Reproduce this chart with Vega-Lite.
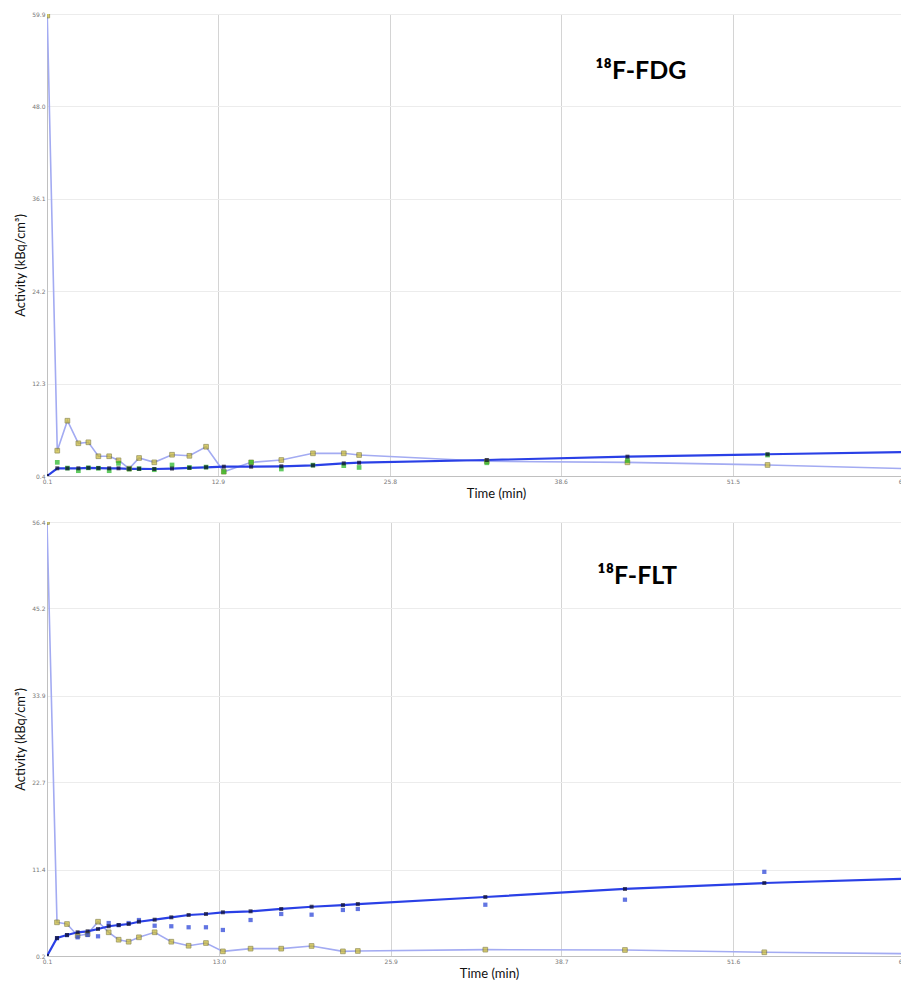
{
  "$schema": "https://vega.github.io/schema/vega-lite/v6.json",
  "background": "white",
  "padding": {"left": 14, "top": 10, "right": 0, "bottom": 0},
  "spacing": 17,
  "config": {
    "view": {"stroke": "#c8c8c8"},
    "axis": {"labelFontSize": 6, "labelColor": "#777", "labelFont": "DejaVu Sans", "tickSize": 0, "labelPadding": 2, "domainColor": "#c0c0c0", "titleFont": "Lato", "titleFontSize": 13, "titleFontWeight": "normal", "titleColor": "#111", "labelFlush": false, "labelOverlap": false, "format": ".1f"},
    "axisX": {"gridColor": "#d4d4d4", "titlePadding": 3},
    "axisY": {"gridColor": "#ececec", "titlePadding": 4}
  },
  "datasets": {
    "fdg": [
      {"series": "input", "t": 0.12, "v": 59.7}, {"series": "input", "t": 0.87, "v": 3.66}, {"series": "input", "t": 1.63, "v": 7.52}, {"series": "input", "t": 2.45, "v": 4.61}, {"series": "input", "t": 3.2, "v": 4.74}, {"series": "input", "t": 3.95, "v": 2.94}, {"series": "input", "t": 4.76, "v": 2.94}, {"series": "input", "t": 5.46, "v": 2.42}, {"series": "input", "t": 6.26, "v": 1.35}, {"series": "input", "t": 7.0, "v": 2.72}, {"series": "input", "t": 8.14, "v": 2.16}, {"series": "input", "t": 9.47, "v": 3.14}, {"series": "input", "t": 10.77, "v": 3.0}, {"series": "input", "t": 12.02, "v": 4.17}, {"series": "input", "t": 13.35, "v": 0.95}, {"series": "input", "t": 15.4, "v": 2.16}, {"series": "input", "t": 17.66, "v": 2.46}, {"series": "input", "t": 20.03, "v": 3.32}, {"series": "input", "t": 22.34, "v": 3.32}, {"series": "input", "t": 23.49, "v": 3.1}, {"series": "input", "t": 33.06, "v": 2.29}, {"series": "input", "t": 43.6, "v": 2.16}, {"series": "input", "t": 54.1, "v": 1.82}, {"series": "input", "t": 64.4, "v": 1.35},
      {"series": "fit", "t": 0.1, "v": 0.4}, {"series": "fit", "t": 0.87, "v": 1.39}, {"series": "fit", "t": 1.63, "v": 1.39}, {"series": "fit", "t": 2.45, "v": 1.39}, {"series": "fit", "t": 3.2, "v": 1.45}, {"series": "fit", "t": 3.95, "v": 1.42}, {"series": "fit", "t": 4.76, "v": 1.39}, {"series": "fit", "t": 5.46, "v": 1.39}, {"series": "fit", "t": 6.26, "v": 1.33}, {"series": "fit", "t": 7.0, "v": 1.33}, {"series": "fit", "t": 8.14, "v": 1.3}, {"series": "fit", "t": 9.47, "v": 1.36}, {"series": "fit", "t": 10.77, "v": 1.45}, {"series": "fit", "t": 12.02, "v": 1.52}, {"series": "fit", "t": 13.35, "v": 1.6}, {"series": "fit", "t": 15.4, "v": 1.6}, {"series": "fit", "t": 17.66, "v": 1.65}, {"series": "fit", "t": 20.03, "v": 1.77}, {"series": "fit", "t": 22.34, "v": 2.03}, {"series": "fit", "t": 23.49, "v": 2.11}, {"series": "fit", "t": 33.06, "v": 2.46}, {"series": "fit", "t": 43.6, "v": 2.89}, {"series": "fit", "t": 54.1, "v": 3.2}, {"series": "fit", "t": 64.4, "v": 3.49},
      {"series": "measured", "t": 0.87, "v": 2.16}, {"series": "measured", "t": 1.63, "v": 1.42}, {"series": "measured", "t": 2.45, "v": 1.08}, {"series": "measured", "t": 3.2, "v": 1.45}, {"series": "measured", "t": 3.95, "v": 1.4}, {"series": "measured", "t": 4.76, "v": 1.08}, {"series": "measured", "t": 5.46, "v": 2.03}, {"series": "measured", "t": 6.26, "v": 1.3}, {"series": "measured", "t": 7.0, "v": 1.35}, {"series": "measured", "t": 8.14, "v": 1.21}, {"series": "measured", "t": 9.47, "v": 1.82}, {"series": "measured", "t": 10.77, "v": 1.5}, {"series": "measured", "t": 12.02, "v": 1.55}, {"series": "measured", "t": 13.35, "v": 0.95}, {"series": "measured", "t": 15.4, "v": 2.16}, {"series": "measured", "t": 17.66, "v": 1.3}, {"series": "measured", "t": 20.03, "v": 1.8}, {"series": "measured", "t": 22.34, "v": 1.73}, {"series": "measured", "t": 23.49, "v": 1.5}, {"series": "measured", "t": 33.06, "v": 2.1}, {"series": "measured", "t": 43.6, "v": 2.4}, {"series": "measured", "t": 54.1, "v": 3.1}
    ],
    "flt": [
      {"series": "input", "t": 0.1, "v": 56.4}, {"series": "input", "t": 0.85, "v": 4.56}, {"series": "input", "t": 1.6, "v": 4.34}, {"series": "input", "t": 2.4, "v": 2.83}, {"series": "input", "t": 3.15, "v": 3.05}, {"series": "input", "t": 3.93, "v": 4.64}, {"series": "input", "t": 4.73, "v": 3.27}, {"series": "input", "t": 5.48, "v": 2.31}, {"series": "input", "t": 6.23, "v": 2.05}, {"series": "input", "t": 7.0, "v": 2.62}, {"series": "input", "t": 8.18, "v": 3.27}, {"series": "input", "t": 9.43, "v": 2.05}, {"series": "input", "t": 10.73, "v": 1.53}, {"series": "input", "t": 12.03, "v": 1.88}, {"series": "input", "t": 13.3, "v": 0.8}, {"series": "input", "t": 15.38, "v": 1.15}, {"series": "input", "t": 17.68, "v": 1.15}, {"series": "input", "t": 19.96, "v": 1.5}, {"series": "input", "t": 22.31, "v": 0.8}, {"series": "input", "t": 23.43, "v": 0.85}, {"series": "input", "t": 33.0, "v": 1.02}, {"series": "input", "t": 43.48, "v": 0.98}, {"series": "input", "t": 53.94, "v": 0.68}, {"series": "input", "t": 64.5, "v": 0.5},
      {"series": "fit", "t": 0.1, "v": 0.2}, {"series": "fit", "t": 0.85, "v": 2.53}, {"series": "fit", "t": 1.6, "v": 2.92}, {"series": "fit", "t": 2.4, "v": 3.27}, {"series": "fit", "t": 3.15, "v": 3.4}, {"series": "fit", "t": 3.93, "v": 3.7}, {"series": "fit", "t": 4.73, "v": 4.05}, {"series": "fit", "t": 5.48, "v": 4.21}, {"series": "fit", "t": 6.23, "v": 4.34}, {"series": "fit", "t": 7.0, "v": 4.64}, {"series": "fit", "t": 8.18, "v": 4.9}, {"series": "fit", "t": 9.43, "v": 5.21}, {"series": "fit", "t": 10.73, "v": 5.51}, {"series": "fit", "t": 12.03, "v": 5.64}, {"series": "fit", "t": 13.3, "v": 5.86}, {"series": "fit", "t": 15.38, "v": 5.99}, {"series": "fit", "t": 17.68, "v": 6.29}, {"series": "fit", "t": 19.96, "v": 6.58}, {"series": "fit", "t": 22.31, "v": 6.8}, {"series": "fit", "t": 23.43, "v": 6.93}, {"series": "fit", "t": 33.0, "v": 7.84}, {"series": "fit", "t": 43.48, "v": 8.88}, {"series": "fit", "t": 53.94, "v": 9.65}, {"series": "fit", "t": 64.5, "v": 10.2},
      {"series": "measured", "t": 0.85, "v": 2.5}, {"series": "measured", "t": 1.6, "v": 2.9}, {"series": "measured", "t": 2.4, "v": 2.62}, {"series": "measured", "t": 3.15, "v": 2.92}, {"series": "measured", "t": 3.93, "v": 2.75}, {"series": "measured", "t": 4.73, "v": 4.47}, {"series": "measured", "t": 5.48, "v": 4.2}, {"series": "measured", "t": 6.23, "v": 4.47}, {"series": "measured", "t": 7.0, "v": 4.86}, {"series": "measured", "t": 8.18, "v": 4.12}, {"series": "measured", "t": 9.43, "v": 4.05}, {"series": "measured", "t": 10.73, "v": 3.92}, {"series": "measured", "t": 12.03, "v": 3.92}, {"series": "measured", "t": 13.3, "v": 3.57}, {"series": "measured", "t": 15.38, "v": 4.86}, {"series": "measured", "t": 17.68, "v": 5.64}, {"series": "measured", "t": 19.96, "v": 5.55}, {"series": "measured", "t": 22.31, "v": 6.16}, {"series": "measured", "t": 23.43, "v": 6.29}, {"series": "measured", "t": 33.0, "v": 6.84}, {"series": "measured", "t": 43.48, "v": 7.49}, {"series": "measured", "t": 53.94, "v": 11.1}
    ]
  },
  "vconcat": [
    {
      "width": 858,
      "height": 462,
      "layer": [
        {"data": {"name": "fdg"}, "transform": [{"filter": "datum.series === 'input'"}], "mark": {"type": "line", "color": "#a3abf2", "strokeWidth": 1.6, "clip": true},
         "encoding": {
          "x": {"field": "t", "type": "quantitative", "title": "Time (min)", "scale": {"domain": [0.1, 64.4], "nice": false, "zero": false}, "axis": {"values": [0.1, 12.9, 25.8, 38.6, 51.5, 64.4], "titleX": 449}},
          "y": {"field": "v", "type": "quantitative", "title": "Activity (kBq/cm³)", "scale": {"domain": [0.4, 59.9], "nice": false, "zero": false}, "axis": {"values": [0.4, 12.3, 24.2, 36.1, 48.0, 59.9], "titleY": 251}}}},
        {"data": {"name": "fdg"}, "transform": [{"filter": "datum.series === 'fit'"}], "mark": {"type": "line", "color": "#2a40e6", "strokeWidth": 2.2, "clip": true},
         "encoding": {"x": {"field": "t", "type": "quantitative"}, "y": {"field": "v", "type": "quantitative"}}},
        {"data": {"name": "fdg"}, "transform": [{"filter": "datum.series === 'input'"}], "mark": {"type": "point", "shape": "square", "filled": true, "size": 22, "color": "#c9b92e", "stroke": "#6e6a22", "strokeWidth": 0.8, "clip": true},
         "encoding": {"x": {"field": "t", "type": "quantitative"}, "y": {"field": "v", "type": "quantitative"}}},
        {"data": {"name": "fdg"}, "transform": [{"filter": "datum.series === 'measured'"}], "mark": {"type": "point", "shape": "square", "filled": true, "size": 22, "color": "#1fb51f", "clip": true},
         "encoding": {"x": {"field": "t", "type": "quantitative"}, "y": {"field": "v", "type": "quantitative"}}},
        {"data": {"name": "fdg"}, "transform": [{"filter": "datum.series === 'fit'"}], "mark": {"type": "point", "shape": "square", "filled": true, "size": 16, "color": "#0b0b2a", "clip": true},
         "encoding": {"x": {"field": "t", "type": "quantitative"}, "y": {"field": "v", "type": "quantitative"}}},
        {"data": {"values": [{"label": "¹⁸F-FDG", "t": 44.6, "v": 52.6}]}, "mark": {"type": "text", "font": "Lato", "fontWeight": "bold", "fontSize": 25, "color": "#000", "align": "center", "baseline": "middle"},
         "encoding": {"text": {"field": "label", "type": "nominal"}, "x": {"field": "t", "type": "quantitative"}, "y": {"field": "v", "type": "quantitative"}}}
      ]
    },
    {
      "width": 858,
      "height": 434,
      "layer": [
        {"data": {"name": "flt"}, "transform": [{"filter": "datum.series === 'input'"}], "mark": {"type": "line", "color": "#a3abf2", "strokeWidth": 1.6, "clip": true},
         "encoding": {
          "x": {"field": "t", "type": "quantitative", "title": "Time (min)", "scale": {"domain": [0.1, 64.5], "nice": false, "zero": false}, "axis": {"values": [0.1, 13.0, 25.9, 38.7, 51.6, 64.5], "titleX": 442}},
          "y": {"field": "v", "type": "quantitative", "title": "Activity (kBq/cm³)", "scale": {"domain": [0.2, 56.4], "nice": false, "zero": false}, "axis": {"values": [0.2, 11.4, 22.7, 33.9, 45.2, 56.4]}}}},
        {"data": {"name": "flt"}, "transform": [{"filter": "datum.series === 'fit'"}], "mark": {"type": "line", "color": "#2a40e6", "strokeWidth": 2.2, "clip": true},
         "encoding": {"x": {"field": "t", "type": "quantitative"}, "y": {"field": "v", "type": "quantitative"}}},
        {"data": {"name": "flt"}, "transform": [{"filter": "datum.series === 'input'"}], "mark": {"type": "point", "shape": "square", "filled": true, "size": 22, "color": "#c9b92e", "stroke": "#6e6a22", "strokeWidth": 0.8, "clip": true},
         "encoding": {"x": {"field": "t", "type": "quantitative"}, "y": {"field": "v", "type": "quantitative"}}},
        {"data": {"name": "flt"}, "transform": [{"filter": "datum.series === 'measured'"}], "mark": {"type": "point", "shape": "square", "filled": true, "size": 18, "color": "#1f3bd6", "clip": true},
         "encoding": {"x": {"field": "t", "type": "quantitative"}, "y": {"field": "v", "type": "quantitative"}}},
        {"data": {"name": "flt"}, "transform": [{"filter": "datum.series === 'fit'"}], "mark": {"type": "point", "shape": "square", "filled": true, "size": 16, "color": "#0b0b2a", "clip": true},
         "encoding": {"x": {"field": "t", "type": "quantitative"}, "y": {"field": "v", "type": "quantitative"}}},
        {"data": {"values": [{"label": "¹⁸F-FLT", "t": 44.4, "v": 49.4}]}, "mark": {"type": "text", "font": "Lato", "fontWeight": "bold", "fontSize": 25, "color": "#000", "align": "center", "baseline": "middle"},
         "encoding": {"text": {"field": "label", "type": "nominal"}, "x": {"field": "t", "type": "quantitative"}, "y": {"field": "v", "type": "quantitative"}}}
      ]
    }
  ]
}
